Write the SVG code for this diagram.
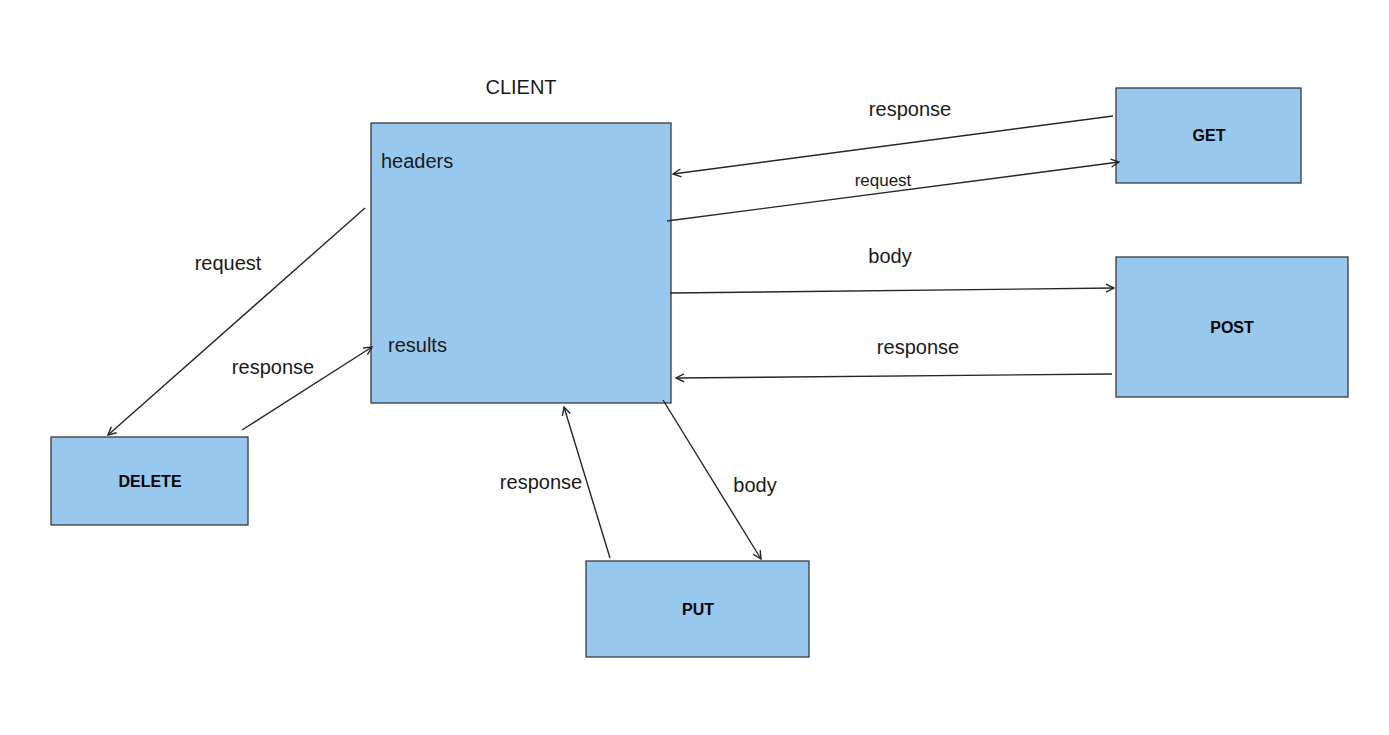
<svg xmlns="http://www.w3.org/2000/svg" width="1389" height="735" viewBox="0 0 1389 735">
<defs>
<style>
.box{fill:#99c8ee;stroke:#36393d;stroke-width:1.3}
.t{font-family:"Liberation Sans",Arial,sans-serif;font-size:20px;fill:#1a1a1a}
.s{font-size:17px}
.b{font-family:"Liberation Sans",Arial,sans-serif;font-size:16px;font-weight:bold;fill:#000;text-anchor:middle}
.c line{stroke:#262626;stroke-width:1.4;marker-end:url(#a)}
</style>
<marker id="a" viewBox="0 0 10 10" refX="9" refY="5" markerWidth="10" markerHeight="10" markerUnits="userSpaceOnUse" orient="auto">
<path d="M1,1 L9,5 L1,9" fill="none" stroke="#262626" stroke-width="1.4"/>
</marker>
</defs>
<rect width="1389" height="735" fill="#fff"/>
<g id="client">
<rect class="box" x="371" y="123" width="300" height="280"/>
<text class="t" x="521" y="94" text-anchor="middle">CLIENT</text>
<text class="t" x="381" y="168">headers</text>
<text class="t" x="388" y="352">results</text>
</g>
<g id="get"><rect class="box" x="1116" y="88" width="185" height="95"/><text class="b" x="1209" y="141">GET</text></g>
<g id="post"><rect class="box" x="1116" y="257" width="232" height="140"/><text class="b" x="1232" y="333">POST</text></g>
<g id="delete"><rect class="box" x="51" y="437" width="197" height="88"/><text class="b" x="150" y="487">DELETE</text></g>
<g id="put"><rect class="box" x="586" y="561" width="223" height="96"/><text class="b" x="698" y="615">PUT</text></g>
<g id="connectors" class="c">
<line x1="1113" y1="116" x2="673" y2="174"/>
<line x1="667" y1="221" x2="1119" y2="162"/>
<line x1="670" y1="293" x2="1114" y2="288"/>
<line x1="1112" y1="374" x2="676" y2="378"/>
<line x1="365" y1="208" x2="108" y2="435"/>
<line x1="242" y1="430" x2="372" y2="347"/>
<line x1="610" y1="558" x2="564" y2="407"/>
<line x1="663" y1="400" x2="761" y2="559"/>
</g>
<g id="labels">
<text class="t" x="910" y="116" text-anchor="middle">response</text>
<text class="t s" x="883" y="186" text-anchor="middle">request</text>
<text class="t" x="890" y="263" text-anchor="middle">body</text>
<text class="t" x="918" y="354" text-anchor="middle">response</text>
<text class="t" x="228" y="270" text-anchor="middle">request</text>
<text class="t" x="273" y="374" text-anchor="middle">response</text>
<text class="t" x="541" y="489" text-anchor="middle">response</text>
<text class="t" x="755" y="492" text-anchor="middle">body</text>
</g>
</svg>
